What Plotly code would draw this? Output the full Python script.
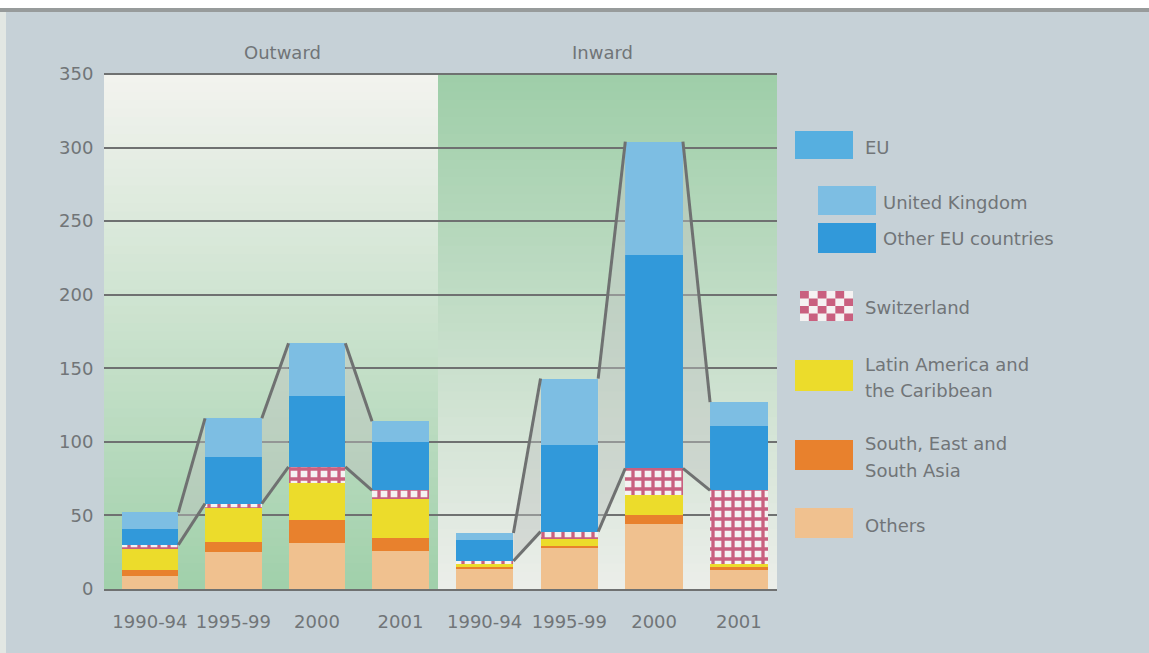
import plotly.graph_objects as go

# ---------------- data ----------------
periods = ["1990-94", "1995-99", "2000", "2001"]

out_others = [9, 25, 31, 26]
out_sea = [4, 7, 16, 9]
out_latam = [14, 23, 25, 26]
out_swiss = [3, 3, 11, 6]
out_other_eu = [11, 32, 48, 33]
out_uk = [11, 26, 36, 14]

in_others = [14, 28, 44, 13]
in_sea = [1, 1, 6, 2]
in_latam = [2, 5, 14, 2]
in_swiss = [2, 5, 18, 50]
in_other_eu = [14, 59, 145, 44]
in_uk = [5, 45, 77, 16]

y_ticks = [0, 50, 100, 150, 200, 250, 300, 350]

# ---------------- style ----------------
W, H = 1149, 653
L, R, T, B = 104, 777, 74, 589  # plot area in pixels
SPLIT = 438
BAR_W = 0.68
FONT = "DejaVu Sans"
FS = 18
TXT = "#717578"
GRID = "#6f7171"

C_UK = "#7dbee3"
C_OEU = "#3199da"
C_EU = "#56afe0"
C_LAT = "#ecdc2b"
C_SEA = "#e8812d"
C_OTH = "#f0c18f"
C_SW_FG = "#c9607f"
C_SW_BG = "#f5f2f2"


def px(x):
    return (x - L) / (R - L)


def py(y):
    return (B - y) / (B - T)


def mix(c1, c2, t):
    a = [int(c1[i:i + 2], 16) for i in (1, 3, 5)]
    b = [int(c2[i:i + 2], 16) for i in (1, 3, 5)]
    return "rgb(%d,%d,%d)" % tuple(round(a[k] + (b[k] - a[k]) * t) for k in range(3))


fig = go.Figure()

x_idx = list(range(len(periods)))


def add_panel(xa, others, sea, latam, swiss, oeu, uk):
    layers = [
        ("Others", others, C_OTH, None),
        ("South, East and South Asia", sea, C_SEA, None),
        ("Latin America and the Caribbean", latam, C_LAT, None),
        ("Switzerland", swiss, C_SW_BG, True),
        ("Other EU countries", oeu, C_OEU, None),
        ("United Kingdom", uk, C_UK, None),
    ]
    for name, vals, col, pat in layers:
        marker = dict(color=col, line=dict(width=0))
        if pat:
            marker["pattern"] = dict(shape="+", fgcolor=C_SW_FG, bgcolor=C_SW_BG,
                                     size=10, solidity=0.55, fgopacity=1,
                                     fillmode="overlay")
        fig.add_trace(go.Bar(x=x_idx, y=vals, name=name, marker=marker,
                             width=BAR_W, xaxis=xa, yaxis="y", showlegend=False,
                             hoverinfo="skip"))
    non_eu = [others[i] + sea[i] + latam[i] + swiss[i] for i in x_idx]
    total = [non_eu[i] + oeu[i] + uk[i] for i in x_idx]
    for i in x_idx[:-1]:
        xr = i + BAR_W / 2
        xl = i + 1 - BAR_W / 2
        fig.add_trace(go.Scatter(
            x=[xr, xr, xl, xl, xr], y=[non_eu[i], total[i], total[i + 1], non_eu[i + 1], non_eu[i]],
            mode="none", fill="toself", fillcolor="rgba(190,196,192,0.45)",
            xaxis=xa, yaxis="y", showlegend=False, hoverinfo="skip"))
        for yy in (total, non_eu):
            fig.add_trace(go.Scatter(
                x=[xr, xl], y=[yy[i], yy[i + 1]], mode="lines",
                line=dict(color=GRID, width=3), xaxis=xa, yaxis="y",
                showlegend=False, hoverinfo="skip"))


add_panel("x", out_others, out_sea, out_latam, out_swiss, out_other_eu, out_uk)
add_panel("x2", in_others, in_sea, in_latam, in_swiss, in_other_eu, in_uk)

shapes = []
# gradient backgrounds
N = 60
for k in range(N):
    y0 = k / N
    y1 = (k + 1) / N + 0.002
    t = (k + 0.5) / N
    shapes.append(dict(type="rect", xref="paper", yref="paper", x0=0, x1=px(SPLIT),
                       y0=y0, y1=y1, fillcolor=mix("#a0d0aa", "#f3f3ef", t),
                       line=dict(width=0), layer="below"))
    shapes.append(dict(type="rect", xref="paper", yref="paper", x0=px(SPLIT), x1=1,
                       y0=y0, y1=y1, fillcolor=mix("#eceeea", "#9ecea8", t),
                       line=dict(width=0), layer="below"))
# frame decorations
shapes.append(dict(type="rect", xref="paper", yref="paper", x0=px(0), x1=px(W),
                   y0=py(8), y1=py(-2), fillcolor="#ffffff", line=dict(width=0), layer="below"))
shapes.append(dict(type="rect", xref="paper", yref="paper", x0=px(0), x1=px(W),
                   y0=py(12), y1=py(8), fillcolor="#979b9b", line=dict(width=0), layer="below"))
shapes.append(dict(type="rect", xref="paper", yref="paper", x0=px(-2), x1=px(6),
                   y0=py(H + 2), y1=py(12), fillcolor="#e2e7e3", line=dict(width=0), layer="below"))
# top line at 350
shapes.append(dict(type="line", xref="paper", yref="paper", x0=0, x1=1, y0=1, y1=1,
                   line=dict(color=GRID, width=2)))


# legend swatches
def sw(x0, y0, x1, y1, col):
    shapes.append(dict(type="rect", xref="paper", yref="paper", x0=px(x0), x1=px(x1),
                       y0=py(y1), y1=py(y0), fillcolor=col, line=dict(width=0)))


sw(795, 131, 853, 159, C_EU)
sw(818, 186, 876, 215, C_UK)
sw(818, 223, 876, 253, C_OEU)
sw(800, 291, 853, 321, C_SW_BG)
cols, rows = 6, 4
cw, ch = (853 - 800) / cols, (321 - 291) / rows
for r in range(rows):
    for c in range(cols):
        if (r + c) % 2 == 0:
            sw(800 + c * cw, 291 + r * ch, 800 + (c + 1) * cw, 291 + (r + 1) * ch, C_SW_FG)
sw(795, 360, 853, 391, C_LAT)
sw(795, 440, 853, 470, C_SEA)
sw(795, 508, 853, 538, C_OTH)

annotations = []


def txt(x, y, s, size=FS, anchor="left"):
    annotations.append(dict(x=px(x), y=py(y), xref="paper", yref="paper", text=s,
                            showarrow=False, xanchor=anchor, yanchor="middle",
                            align="left", font=dict(family=FONT, size=size, color=TXT)))


txt(863, 147, "EU")
txt(881, 202, "United Kingdom")
txt(881, 238, "Other EU countries")
txt(863, 307, "Switzerland")
txt(863, 364, "Latin America and")
txt(863, 390, "the Caribbean")
txt(863, 443, "South, East and")
txt(863, 470, "South Asia")
txt(863, 525, "Others")
txt(282, 52, "Outward", anchor="center")
txt(602, 52, "Inward", anchor="center")

axis_common = dict(
    tickmode="array", tickvals=x_idx, ticktext=periods, range=[-0.55, 3.45],
    showgrid=False, zeroline=False, showline=True, linecolor=GRID, linewidth=2,
    ticks="outside", ticklen=15, tickcolor="rgba(0,0,0,0)",
    tickfont=dict(family=FONT, size=FS, color=TXT), fixedrange=True,
)

fig.update_layout(
    width=W, height=H,
    margin=dict(l=L, r=W - R, t=T, b=H - B, pad=0),
    paper_bgcolor="#c6d1d7", plot_bgcolor="rgba(0,0,0,0)",
    barmode="stack", bargap=0,
    xaxis=dict(domain=[0, px(SPLIT)], anchor="y", **axis_common),
    xaxis2=dict(domain=[px(SPLIT), 1], anchor="y", **axis_common),
    yaxis=dict(range=[0, 350], tickvals=y_ticks, showgrid=True, gridcolor=GRID,
               gridwidth=2, zeroline=False, showline=False, ticks="outside",
               ticklen=6, tickcolor="rgba(0,0,0,0)",
               tickfont=dict(family=FONT, size=FS, color=TXT), fixedrange=True),
    shapes=shapes, annotations=annotations, showlegend=False,
)

fig.write_html("out.html")
